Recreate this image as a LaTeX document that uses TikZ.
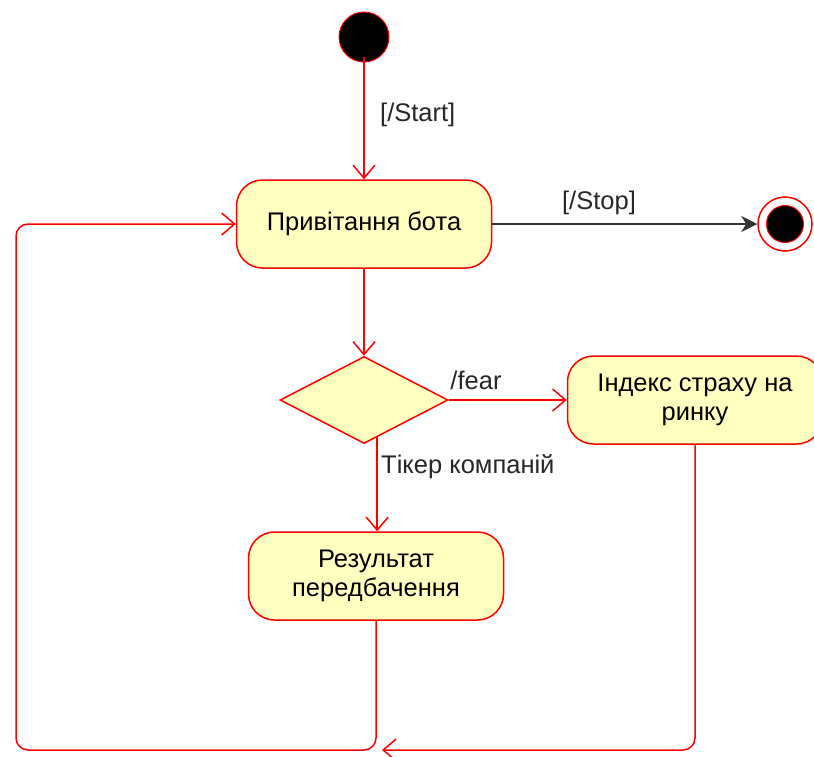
\documentclass[tikz,border=0pt]{standalone}
\usepackage{fontspec}
\setmainfont{Liberation Sans}
\usetikzlibrary{arrows.meta, positioning, shapes.geometric, calc}
\definecolor{umlred}{HTML}{FF0000}
\definecolor{umlfill}{HTML}{FFFFC0}

\begin{document}
\begin{tikzpicture}[
            x=1pt, y=-1pt,
            font=\fontsize{25.5}{29}\selectfont,
            statenode/.style={rectangle, rounded corners=26pt, draw=umlred, line width=1.5pt, fill=umlfill, minimum width=255pt, minimum height=88pt, align=center, inner sep=0pt},
            choicenode/.style={diamond, draw=umlred, line width=1.5pt, fill=umlfill, minimum width=168pt, minimum height=87pt, inner sep=0pt},
            startnode/.style={circle, draw=umlred, line width=1pt, fill=black, minimum size=50pt, inner sep=0pt},
            endring/.style={circle, draw=umlred, line width=1.5pt, fill=white, minimum size=54pt, inner sep=0pt},
            enddot/.style={circle, draw=umlred, line width=1pt, fill=black, minimum size=37pt, inner sep=0pt},
            flow/.style={draw=umlred, line width=1.5pt, -{Straight Barb[length=13pt, width=22pt]}},
            stopflow/.style={draw=black!80, line width=1.5pt, -{Stealth[length=16pt, width=16pt, inset=5pt]}},
            lbl/.style={inner sep=0pt, text=black!85},
            ]
            \useasboundingbox (0,0) rectangle (814,756);

            \node[startnode]  (start) at (364,37) {};
            \node[statenode]  (bot)   at (364,224) {Привітання бота};
            \node[endring]    (stop)  at (785,224) {};
            \node[enddot]     (stopdot) at (stop) {};
            \node[choicenode] (dia)   at (364,400) {};
            \node[statenode]  (idx)   at (695,400) {Індекс страху на\\ринку};
            \node[statenode]  (res)   at (376,576) {Результат\\передбачення};

            \node[lbl, anchor=west] (startlbl) at (380,115) {[/Start]};
            \node[lbl]              (stoplbl)  at (599,203) {[/Stop]};
            \node[lbl]              (fearlbl)  at (476,380) {/fear};
            \node[lbl, anchor=west] (ticklbl)  at (381,467) {Тікер компаній};

            \coordinate (tick)    at ($(dia.south)!0.155!(dia.east)$);
            \coordinate (loopbl)  at (16,750);
            \coordinate (joinpt)  at (382,750);

            \draw[flow] ([yshift=6pt]start.south) -- (bot);
            \draw[stopflow] (bot) -- (stop);
            \draw[flow] (bot) -- (dia);
            \draw[flow] (dia) -- (idx);
            \draw[flow] (tick) -- (tick |- res.north);
            % back to the greeting
            \draw[flow, rounded corners=12pt] (res.south) -- (res.south |- loopbl) -- (loopbl) -- (loopbl |- bot.west) -- (bot.west);
            \draw[flow, rounded corners=12pt] (idx.south) -- (idx.south |- loopbl) -- (joinpt);
        \end{tikzpicture}
\end{document}
